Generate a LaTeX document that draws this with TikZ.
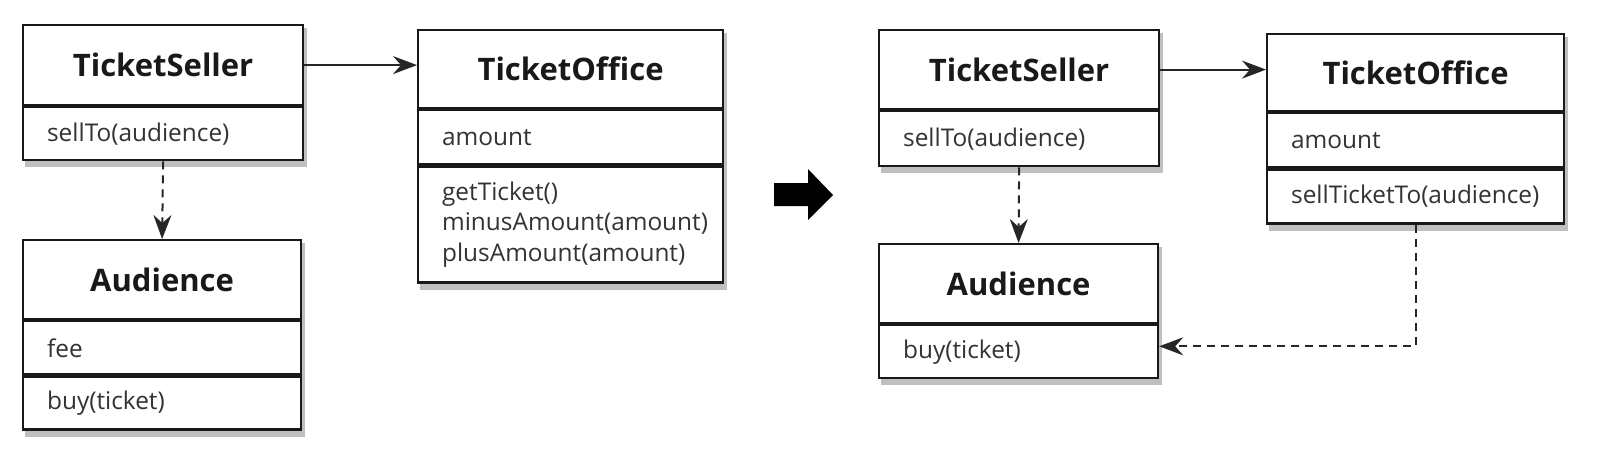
\documentclass[tikz,border=0pt]{standalone}
\usepackage{fontspec}
\setmainfont{Open Sans}
\usetikzlibrary{arrows.meta,calc,backgrounds}
\tikzset{
  cls/.style={draw=black!90,line width=1.1pt,fill=white,anchor=north west,inner sep=0pt,
    font=\fontsize{15.5}{18}\selectfont\bfseries,text=black!90,align=center},
  cmp/.style={draw=black!90,line width=1.1pt,fill=white,anchor=north,inner ysep=0pt,inner xsep=12pt,
    font=\fontsize{12.2}{15.2}\selectfont,text=black!80,align=left},
  assoc/.style={draw=black!85,line width=1pt,-{Stealth[length=12pt,width=9pt,inset=4pt]}},
  dep/.style={assoc,dash pattern=on 4pt off 3pt},
  shadowbox/.style={fill=black!25},
}
\begin{document}
\begin{tikzpicture}[x=0.5pt,y=-0.5pt]
\useasboundingbox (0,0) rectangle (1598,456);
% left: TicketSeller
\node[cls,minimum width=140pt,minimum height=40pt] (ts1) at (22,24) {TicketSeller};
\node[cmp,text width=116pt,minimum height=26.5pt] (ts1m) at (ts1.south) {sellTo(audience)};
% left: Audience
\node[cls,minimum width=139pt,minimum height=39.5pt] (au1) at (22,239) {Audience};
\node[cmp,text width=115pt,minimum height=26.5pt] (au1a) at (au1.south) {fee};
\node[cmp,text width=115pt,minimum height=26.5pt] (au1m) at (au1a.south) {buy(ticket)};
% left: TicketOffice
\node[cls,minimum width=152.5pt,minimum height=39pt] (to1) at (417,29) {TicketOffice};
\node[cmp,text width=128.5pt,minimum height=27pt] (to1a) at (to1.south) {amount};
\node[cmp,text width=128.5pt,minimum height=58pt] (to1m) at (to1a.south) {getTicket()\\minusAmount(amount)\\plusAmount(amount)};
% right: TicketSeller
\node[cls,minimum width=140pt,minimum height=39.5pt] (ts2) at (878,29) {TicketSeller};
\node[cmp,text width=116pt,minimum height=27.5pt] (ts2m) at (ts2.south) {sellTo(audience)};
% right: Audience
\node[cls,minimum width=139.5pt,minimum height=39.5pt] (au2) at (878,243) {Audience};
\node[cmp,text width=115.5pt,minimum height=26.5pt] (au2m) at (au2.south) {buy(ticket)};
% right: TicketOffice
\node[cls,minimum width=148.5pt,minimum height=38.5pt] (to2) at (1266,33) {TicketOffice};
\node[cmp,text width=124.5pt,minimum height=27pt] (to2a) at (to2.south) {amount};
\node[cmp,text width=124.5pt,minimum height=27pt] (to2m) at (to2a.south) {sellTicketTo(audience)};
% shadows
\begin{scope}[on background layer]
\foreach \a/\b in {ts1/ts1m,au1/au1m,to1/to1m,ts2/ts2m,au2/au2m,to2/to2m}{
  \fill[shadowbox] ($(\a.north west)+(3,4)$) rectangle ($(\b.south east)+(3,6)$);
}
\end{scope}
% connectors
\draw[assoc] (ts1.east) -- (ts1.east -| to1.west);
\draw[dep] (ts1m.south) -- (au1.north);
\draw[assoc] (ts2.east) -- (ts2.east -| to2.west);
\draw[dep] (ts2m.south) -- (au2.north);
\draw[dep] (to2m.south) |- ([yshift=2.75pt]au2m.east);
% big arrow
\fill[black] (774,183) -- (808,183) -- (808,169) -- (833,195) -- (808,220) -- (808,206) -- (774,206) -- cycle;
\end{tikzpicture}
\end{document}
